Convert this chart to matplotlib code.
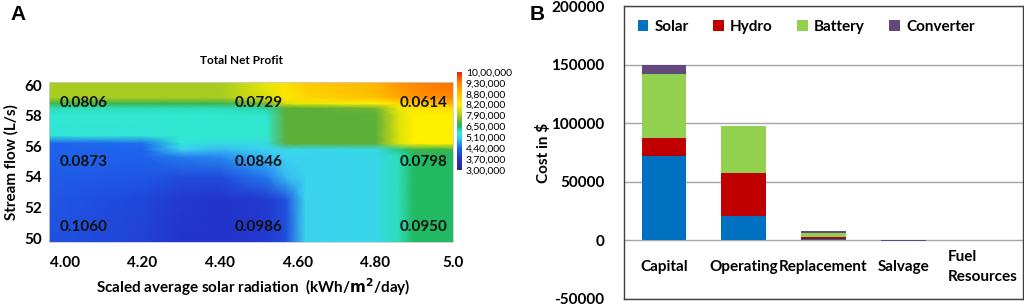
import matplotlib

matplotlib.use("Agg")
import matplotlib.pyplot as plt
import numpy as np
from matplotlib.cm import ScalarMappable
from matplotlib.colors import LinearSegmentedColormap, Normalize

plt.rcParams["axes.unicode_minus"] = False

# ---- panel A: total net profit surface (values in colorbar-level units) ----
radiation = [3.96, 4.20, 4.30, 4.40, 4.52, 4.57, 4.62, 4.80, 4.86, 4.90, 5.00]
stream_flow = [49.75, 52.5, 54.0, 55.3, 55.8, 56.2, 56.7, 58.0, 58.5, 58.8, 59.2, 60.2]
profit_level = [
    [1.6, 1.3, 1.0, 1.0, 1.1, 1.5, 3.0, 3.1, 3.6, 4.0, 4.0],
    [1.7, 1.4, 1.1, 1.0, 1.1, 1.6, 3.0, 3.1, 3.6, 4.0, 4.0],
    [1.8, 1.7, 1.5, 1.5, 2.2, 2.8, 3.0, 3.1, 3.6, 4.0, 4.0],
    [1.9, 1.9, 2.2, 2.3, 2.8, 3.0, 3.0, 3.1, 3.6, 4.0, 4.0],
    [1.9, 2.0, 3.0, 2.8, 3.0, 3.1, 3.1, 3.2, 3.8, 4.2, 4.2],
    [1.9, 2.1, 3.4, 3.2, 3.3, 4.4, 4.4, 4.4, 5.6, 6.0, 6.0],
    [3.4, 3.4, 3.5, 3.5, 3.5, 4.4, 4.4, 4.4, 5.6, 6.0, 6.0],
    [3.5, 3.5, 3.5, 3.5, 3.5, 4.4, 4.4, 4.4, 5.6, 6.0, 6.0],
    [3.6, 3.6, 3.6, 3.6, 3.7, 4.4, 4.4, 4.6, 5.8, 6.2, 6.4],
    [4.2, 4.2, 4.2, 4.2, 4.6, 5.6, 5.8, 6.0, 6.4, 6.8, 7.2],
    [5.0, 5.0, 5.0, 5.0, 5.6, 6.2, 6.5, 7.0, 7.4, 7.8, 8.0],
    [5.0, 5.0, 5.0, 5.0, 5.7, 6.3, 6.8, 7.2, 7.8, 8.0, 8.2],
]
level_labels = ["3,00,000", "3,70,000", "4,40,000", "5,10,000", "6,50,000",
                "7,90,000", "8,20,000", "8,80,000", "9,30,000", "10,00,000"]
coe_x = [4.05, 4.50, 4.925]
coe_y = [50.75, 55.0, 58.85]
coe_values = [
    ["0.1060", "0.0986", "0.0950"],
    ["0.0873", "0.0846", "0.0798"],
    ["0.0806", "0.0729", "0.0614"],
]
x_ticks = [4.0, 4.2, 4.4, 4.6, 4.8, 5.0]
x_ticklabels = ["4.00", "4.20", "4.40", "4.60", "4.80", "5.0"]
y_ticks = [50, 52, 54, 56, 58, 60]

# ---- panel B: cost breakdown ----
cost_types = ["Capital", "Operating", "Replacement", "Salvage", "Fuel\nResources"]
solar = [71700, 21100, 1400, 0, 0]
hydro = [15700, 36000, 1500, 0, 0]
battery = [54600, 40600, 3400, 0, 0]
converter = [8000, 0, 2000, -800, 0]

FONT = "Lato"
profit_cmap = LinearSegmentedColormap.from_list(
    "profit",
    [(0.0, "#28288a"), (1 / 9, "#2234cc"), (2 / 9, "#1e66ee"), (3 / 9, "#3cd2f0"),
     (3.5 / 9, "#30e8d0"), (4 / 9, "#22b860"), (4.4 / 9, "#5aae3a"),
     (5 / 9, "#a8cc20"), (6 / 9, "#fff000"), (7 / 9, "#ffc000"),
     (8 / 9, "#ff8800"), (1.0, "#e82010")],
)
norm = Normalize(0, 9)

fig = plt.figure(figsize=(10.24, 3.05), dpi=100)

# panel A
ax = fig.add_axes([0.0479, 0.2066, 0.3945, 0.5245])
ax.pcolormesh(radiation, stream_flow, np.array(profit_level), shading="gouraud",
              cmap=profit_cmap, norm=norm)
for row, yv in zip(coe_values, coe_y):
    for txt, xv in zip(row, coe_x):
        ax.text(xv, yv, txt, ha="center", va="center", fontsize=11,
                fontweight="bold", family=FONT, color="#111111")
ax.set_xlim(3.96, 5.0)
ax.set_ylim(49.75, 60.2)
ax.set_xticks(x_ticks)
ax.set_xticklabels(x_ticklabels)
ax.set_yticks(y_ticks)
ax.tick_params(length=0, pad=10, labelsize=11)
for lab in ax.get_xticklabels() + ax.get_yticklabels():
    lab.set_fontweight("bold")
    lab.set_family(FONT)
ax.tick_params(axis="y", pad=5)
for sp in ax.spines.values():
    sp.set_color("#cccccc")
    sp.set_linewidth(0.6)
ax.set_ylabel("Stream flow (L/s)", fontsize=11, fontweight="bold", family=FONT, labelpad=4)
fig.text(0.247, 0.059, r"Scaled average solar radiation  (kWh/$\mathbf{m^2}$/day)",
         ha="center", va="center", fontsize=11, fontweight="bold", family=FONT)
fig.text(0.236, 0.80, "Total Net Profit", ha="center", va="center", fontsize=8.5,
         fontweight="bold", family=FONT)

cax = fig.add_axes([0.4463, 0.4426, 0.0045, 0.3213])
cb = fig.colorbar(ScalarMappable(norm=norm, cmap=profit_cmap), cax=cax, ticks=range(10))
cb.set_ticklabels(level_labels)
cb.outline.set_visible(False)
cax.tick_params(length=0, pad=3, labelsize=7.5)
for lab in cax.get_yticklabels():
    lab.set_family(FONT)

fig.text(0.0098, 0.985, "A", ha="left", va="top", fontsize=15, fontweight="bold",
         family="Liberation Sans")
fig.text(0.5176, 0.985, "B", ha="left", va="top", fontsize=15, fontweight="bold",
         family="Liberation Sans")

# panel B
bx = fig.add_axes([0.6094, 0.0197, 0.3896, 0.9606])
pos = np.arange(len(cost_types))
width = 0.56
bottom = np.zeros(len(cost_types))
for vals, color, name in [(solar, "#0070c0", "Solar"), (hydro, "#c00000", "Hydro"),
                          (battery, "#92d050", "Battery"),
                          (converter, "#604a7b", "Converter")]:
    vals = np.array(vals, dtype=float)
    base = np.where(vals < 0, 0, bottom)
    bx.bar(pos, vals, width, bottom=base, color=color, label=name, zorder=3)
    bottom = bottom + np.clip(vals, 0, None)

bx.set_xlim(-0.5, len(cost_types) - 0.5)
bx.set_ylim(-50000, 200000)
bx.set_yticks(np.arange(-50000, 200001, 50000))
bx.yaxis.grid(True, color="#a6a6a6", linewidth=1, zorder=0)
bx.set_xticks([])
bx.tick_params(axis="y", length=0, pad=14, labelsize=11)
for lab in bx.get_yticklabels():
    lab.set_family(FONT)
    lab.set_fontweight("bold")
for sp in bx.spines.values():
    sp.set_color("#404040")
    sp.set_linewidth(1)
for p, name in zip(pos, cost_types):
    bx.text(p, -22500, name, ha="center", va="center", fontsize=11, family=FONT,
            fontweight="bold", linespacing=1.5, multialignment="left")
bx.set_ylabel("Cost in $", fontsize=11, fontweight="bold", family=FONT, labelpad=0)
leg = bx.legend(loc="upper left", bbox_to_anchor=(0.0, 1.0), ncol=4, frameon=False,
                handlelength=0.7, handleheight=0.7, handletextpad=0.4, columnspacing=1.6,
                prop={"family": FONT, "size": 11, "weight": "bold"})

fig.savefig("out.png", dpi=100)
